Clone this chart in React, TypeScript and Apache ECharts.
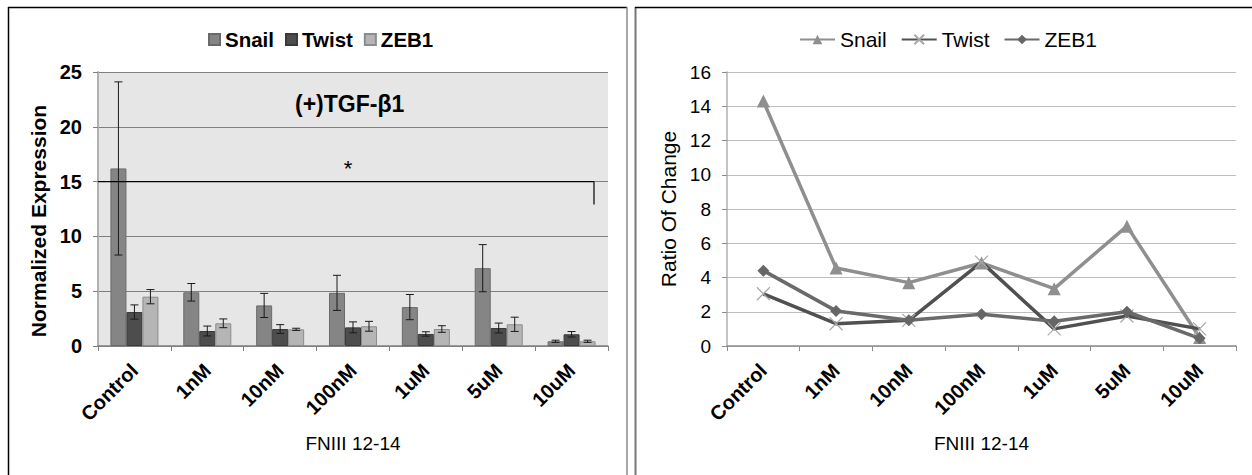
import React, { useEffect, useRef } from "react";
import * as echarts from "echarts";

const categories = ["Control", "1nM", "10nM", "100nM", "1uM", "5uM", "10uM"];
const seriesNames = ["Snail", "Twist", "ZEB1"];

// Left panel: normalized expression (bars) with error bars
const snailExpr = [16.2, 4.9, 3.7, 4.85, 3.55, 7.1, 0.43];
const snailErr = [7.9, 0.8, 1.1, 1.6, 1.15, 2.15, 0.1];
const twistExpr = [3.1, 1.37, 1.55, 1.7, 1.1, 1.64, 1.07];
const twistErr = [0.65, 0.45, 0.4, 0.5, 0.2, 0.45, 0.25];
const zebExpr = [4.5, 2.07, 1.52, 1.8, 1.55, 1.98, 0.43];
const zebErr = [0.65, 0.4, 0.1, 0.45, 0.3, 0.65, 0.1];
const sigLevel = 15;
const sigDrop = 12.9;

// Right panel: ratio of change (lines)
const snailRatio = [14.3, 4.55, 3.7, 4.85, 3.35, 7.0, 0.5];
const twistRatio = [3.05, 1.3, 1.5, 4.9, 1.0, 1.75, 1.0];
const zebRatio = [4.4, 2.05, 1.5, 1.85, 1.45, 2.0, 0.45];

const FONT = "'Liberation Sans', Arial, sans-serif";

function errSeries(vals: number[], errs: number[], off: number) {
  return {
    type: "custom",
    z: 5,
    silent: true,
    data: vals.map((v, i) => [i, v - errs[i], v + errs[i]]),
    renderItem: (params: any, api: any) => {
      const i = api.value(0);
      const lo = api.coord([i, api.value(1)]);
      const hi = api.coord([i, api.value(2)]);
      const x = lo[0] + off;
      const st = { stroke: "#1a1a1a", lineWidth: 1 };
      return {
        type: "group",
        children: [
          { type: "line", shape: { x1: x, y1: lo[1], x2: x, y2: hi[1] }, style: st },
          { type: "line", shape: { x1: x - 4, y1: lo[1], x2: x + 4, y2: lo[1] }, style: st },
          { type: "line", shape: { x1: x - 4, y1: hi[1], x2: x + 4, y2: hi[1] }, style: st },
        ],
      };
    },
  };
}

const catLabel = {
  interval: 0,
  rotate: 45,
  margin: 21,
  fontFamily: FONT,
  fontWeight: "bold",
  fontSize: 20,
  color: "#000",
};

function LeftChart() {
  const ref = useRef<HTMLDivElement>(null);
  useEffect(() => {
    const chart = echarts.init(ref.current!, null, { renderer: "svg" });
    const barColors = ["#858585", "#4d4d4d", "#b5b5b5"];
    const barBorders = ["#6a6a6a", "#3a3a3a", "#8c8c8c"];
    const barData = [snailExpr, twistExpr, zebExpr];
    chart.setOption({
      animation: false,
      textStyle: { fontFamily: FONT },
      graphic: [
        { type: "line", shape: { x1: 8, y1: 7.5, x2: 627, y2: 7.5 }, style: { stroke: "#000", lineWidth: 1.5 } },
        { type: "line", shape: { x1: 8.5, y1: 7, x2: 8.5, y2: 480 }, style: { stroke: "#000", lineWidth: 1.5 } },
        { type: "line", shape: { x1: 627, y1: 7, x2: 627, y2: 480 }, style: { stroke: "#888", lineWidth: 1.5 } },
        {
          type: "text",
          left: 295,
          top: 92,
          z: 10,
          style: { text: "(+)TGF-β1", font: `bold 23px ${FONT}`, fill: "#000" },
        },
      ],
      legend: {
        data: seriesNames,
        left: 203,
        top: 24,
        itemWidth: 11,
        itemHeight: 11,
        itemGap: 11,
        icon: "rect",
        textStyle: { fontFamily: FONT, fontWeight: "bold", fontSize: 20.5, color: "#000" },
      },
      grid: {
        left: 98,
        top: 72,
        width: 510,
        height: 274,
        show: true,
        backgroundColor: "#e6e6e6",
        borderWidth: 0,
      },
      xAxis: {
        type: "category",
        data: categories,
        name: "FNIII 12-14",
        nameLocation: "middle",
        nameGap: 88,
        nameTextStyle: { fontFamily: FONT, fontSize: 19, color: "#000" },
        axisLine: { lineStyle: { color: "#808080", width: 1.5 } },
        axisTick: { show: true, length: 5, lineStyle: { color: "#808080" } },
        axisLabel: catLabel,
      },
      yAxis: {
        type: "value",
        min: 0,
        max: 25,
        interval: 5,
        name: "Normalized Expression",
        nameLocation: "middle",
        nameGap: 44,
        nameTextStyle: {
          fontFamily: FONT,
          fontWeight: "bold",
          fontSize: 21,
          color: "#000",
          padding: [0, 24, 0, 0],
        },
        axisLine: { show: true, lineStyle: { color: "#b0b0b0", width: 2 } },
        axisTick: { show: true, length: 5, lineStyle: { color: "#808080" } },
        splitLine: { show: true, lineStyle: { color: "#808080", width: 1 } },
        axisLabel: { margin: 16, fontFamily: FONT, fontWeight: "bold", fontSize: 20, color: "#000" },
      },
      series: [
        ...seriesNames.map((n, k) => ({
          name: n,
          type: "bar",
          data: barData[k],
          barWidth: 16,
          barGap: "0%",
          itemStyle: { color: barColors[k], borderColor: barBorders[k], borderWidth: 1 },
        })),
        errSeries(snailExpr, snailErr, -16),
        errSeries(twistExpr, twistErr, 0),
        errSeries(zebExpr, zebErr, 16),
        {
          type: "custom",
          z: 6,
          silent: true,
          data: [[0, sigLevel, sigDrop]],
          renderItem: (params: any, api: any) => {
            const cs = params.coordSys;
            const y1 = api.coord([0, api.value(1)])[1];
            const y2 = api.coord([0, api.value(2)])[1];
            const xEnd = cs.x + cs.width - 14;
            const st = { stroke: "#000", lineWidth: 1.2 };
            return {
              type: "group",
              children: [
                { type: "line", shape: { x1: cs.x, y1, x2: xEnd, y2: y1 }, style: st },
                { type: "line", shape: { x1: xEnd, y1, x2: xEnd, y2 }, style: st },
                {
                  type: "text",
                  style: {
                    text: "*",
                    x: cs.x + 250,
                    y: y1 - 2,
                    align: "center",
                    verticalAlign: "bottom",
                    font: `normal 22px ${FONT}`,
                    fill: "#000",
                  },
                },
              ],
            };
          },
        },
      ],
    });
    return () => chart.dispose();
  }, []);
  return <div ref={ref} style={{ position: "absolute", left: 0, top: 0, width: 631, height: 475 }} />;
}

function RightChart() {
  const ref = useRef<HTMLDivElement>(null);
  useEffect(() => {
    const chart = echarts.init(ref.current!, null, { renderer: "svg" });
    chart.setOption({
      animation: false,
      textStyle: { fontFamily: FONT },
      graphic: [
        { type: "line", shape: { x1: 4.5, y1: 7, x2: 4.5, y2: 480 }, style: { stroke: "#777", lineWidth: 2 } },
        { type: "line", shape: { x1: 4, y1: 7.5, x2: 621, y2: 7.5 }, style: { stroke: "#000", lineWidth: 1.5 } },
      ],
      legend: {
        data: seriesNames,
        left: 163,
        top: 24,
        itemWidth: 35,
        itemHeight: 12,
        itemGap: 14,
        textStyle: { fontFamily: FONT, fontSize: 21, color: "#000" },
      },
      grid: { left: 96, top: 72, width: 509, height: 274, show: false },
      xAxis: {
        type: "category",
        data: categories,
        name: "FNIII 12-14",
        nameLocation: "middle",
        nameGap: 88,
        nameTextStyle: { fontFamily: FONT, fontSize: 19, color: "#000" },
        axisLine: { lineStyle: { color: "#8c8c8c", width: 1.5 } },
        axisTick: { show: true, length: 5, lineStyle: { color: "#8c8c8c" } },
        axisLabel: catLabel,
      },
      yAxis: {
        type: "value",
        min: 0,
        max: 16,
        interval: 2,
        name: "Ratio Of Change",
        nameLocation: "middle",
        nameGap: 47,
        nameTextStyle: { fontFamily: FONT, fontSize: 21, color: "#000" },
        axisLine: { show: true, lineStyle: { color: "#b0b0b0", width: 1.5 } },
        axisTick: { show: true, length: 5, lineStyle: { color: "#8c8c8c" } },
        splitLine: { show: true, lineStyle: { color: "#bdbdbd", width: 1 } },
        axisLabel: { margin: 16, fontFamily: FONT, fontSize: 19, color: "#000" },
      },
      series: [
        {
          name: "Snail",
          type: "line",
          data: snailRatio,
          symbol: "triangle",
          symbolSize: 13,
          lineStyle: { color: "#8f8f8f", width: 3.5 },
          itemStyle: { color: "#8f8f8f" },
        },
        {
          name: "Twist",
          type: "line",
          data: twistRatio,
          symbol: "path://M0,0L10,10M10,0L0,10",
          symbolSize: 13,
          lineStyle: { color: "#505050", width: 3.5 },
          itemStyle: { color: "#a8a8a8", borderColor: "#a8a8a8", borderWidth: 1.2 },
        },
        {
          name: "ZEB1",
          type: "line",
          data: zebRatio,
          symbol: "diamond",
          symbolSize: 12,
          lineStyle: { color: "#6a6a6a", width: 3.5 },
          itemStyle: { color: "#666666" },
        },
      ],
    });
    return () => chart.dispose();
  }, []);
  return <div ref={ref} style={{ position: "absolute", left: 631, top: 0, width: 621, height: 475 }} />;
}

export default function App() {
  return (
    <div style={{ position: "absolute", left: 0, top: 0, width: 1252, height: 475, background: "#fff" }}>
      <LeftChart />
      <RightChart />
    </div>
  );
}
